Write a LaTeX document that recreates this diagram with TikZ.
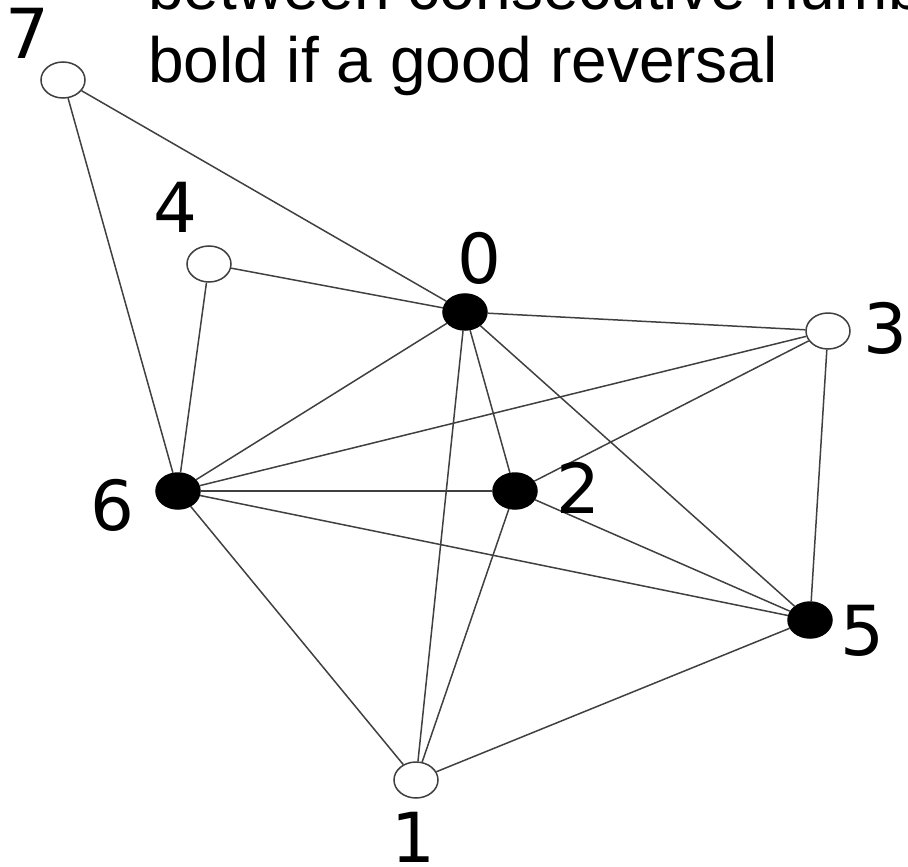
\documentclass[tikz,border=0pt]{standalone}
\usepackage{fontspec}
\setmainfont{Liberation Sans}
\newfontfamily\labelfont{DejaVu Sans}
\usetikzlibrary{shapes.geometric}
\definecolor{edgegray}{HTML}{404040}
\tikzset{
  vtx/.style={ellipse, draw=edgegray, line width=1.5pt, minimum width=44pt, minimum height=36pt, inner sep=0pt},
  openvtx/.style={vtx, fill=white},
  goodvtx/.style={vtx, draw=black, fill=black},
  edge/.style={draw=edgegray, line width=1.5pt},
  vlabel/.style={inner sep=0pt, anchor=center, font=\labelfont\fontsize{69}{69}\selectfont},
  caption/.style={inner sep=0pt, anchor=base west, font=\fontsize{64}{72}\selectfont}
}
\begin{document}
\begin{tikzpicture}[x=1pt, y=-1pt]
  \useasboundingbox (0,0) rectangle (908,867);
  \clip (0,0) rectangle (908,867);

  % heading lines
  \node[caption] (cap1) at (148,10) {between consecutive numbers};
  \node[caption] (cap2) at (148,82) {bold if a good reversal};

  % vertices
  \node[openvtx] (v7) at (63,80) {};
  \node[openvtx] (v4) at (209,264) {};
  \node[goodvtx] (v0) at (465,312) {};
  \node[openvtx] (v3) at (828,331) {};
  \node[goodvtx] (v6) at (178,491) {};
  \node[goodvtx] (v2) at (515,491) {};
  \node[goodvtx] (v5) at (810,620) {};
  \node[openvtx] (v1) at (416,780) {};

  % edges
  \foreach \a/\b in {v7/v0, v7/v6, v4/v0, v4/v6, v0/v3, v0/v6, v0/v1, v0/v2, v0/v5,
                     v3/v6, v3/v2, v3/v5, v6/v2, v6/v5, v6/v1, v2/v5, v2/v1, v5/v1}
    \draw[edge] (\a) -- (\b);

  % vertex numbers
  \node[vlabel] (l7) at (27,33) {7};
  \node[vlabel] (l4) at (175,207) {4};
  \node[vlabel] (l0) at (479,258) {0};
  \node[vlabel] (l3) at (885,328) {3};
  \node[vlabel] (l6) at (112,505) {6};
  \node[vlabel] (l2) at (578,488) {2};
  \node[vlabel] (l5) at (862,631) {5};
  \node[vlabel] (l1) at (413,837) {1};
\end{tikzpicture}
\end{document}
